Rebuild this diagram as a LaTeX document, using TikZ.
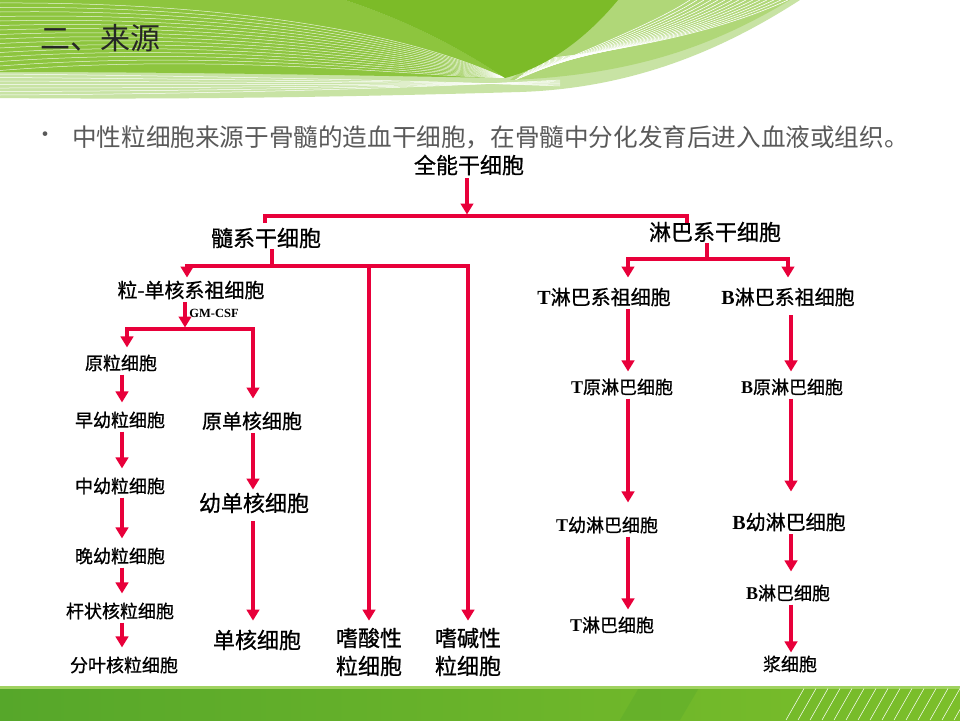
\documentclass[tikz,border=0pt]{standalone}
\usepackage{fontspec}
\setmainfont{Liberation Serif}
\newfontfamily\cjk{Noto Sans CJK SC}
\newfontfamily\cjkbold[FakeBold=0.8]{Noto Sans CJK SC}
\usetikzlibrary{arrows.meta}
\definecolor{linkred}{RGB}{232,0,58}
\definecolor{leafgreen}{RGB}{141,197,62}
\definecolor{deepgreen}{RGB}{124,187,40}
\definecolor{palegreen}{RGB}{200,227,164}
\definecolor{fangreen}{RGB}{176,215,120}
\definecolor{bargreen}{RGB}{86,167,42}
\definecolor{barlight}{RGB}{124,191,42}
\definecolor{barline}{RGB}{160,210,96}
\definecolor{bulletgray}{RGB}{89,89,89}
\definecolor{titleink}{RGB}{38,38,38}
\newcommand\romb[1]{{\rmfamily\bfseries #1}}

\tikzset{
  cell/.style={font=\cjkbold\fontsize{18}{22}\selectfont, inner sep=1pt},
  midcell/.style={cell, font=\cjkbold\fontsize{20}{24}\selectfont},
  bigcell/.style={cell, font=\cjkbold\fontsize{22}{28}\selectfont},
  link/.style={linkred, line width=3.2pt},
  arr/.style={link, -{Triangle[length=11pt,width=12.5pt]}, shorten >=6pt, shorten <=2pt},
}

\begin{document}
\begin{tikzpicture}[x=1pt,y=-1pt]
  \useasboundingbox (0,0) rectangle (960,720);
  \fill[white] (0,0) rectangle (960,720);

  % header swoosh
  \begin{scope}
    \clip (0,0) -- (800,0) .. controls (730,45) and (640,88) .. (520,92)
      .. controls (380,96) and (200,100) .. (0,98) -- cycle;
    \fill[palegreen] (0,0) rectangle (800,100);
    \foreach \k in {0,...,6}
      \draw[white, line width=0.5pt] (0,{74+3.5*\k}) .. controls (200,{76+3*\k}) and (400,{80+1.5*\k}) .. (560,{86-\k});
  \end{scope}
  \begin{scope}
    \clip (615,0) -- (790,0) .. controls (720,42) and (640,75) .. (510,80) -- cycle;
    \fill[fangreen] (500,0) rectangle (800,90);
    \foreach \k in {0,...,14}
      \draw[white, line width=0.6pt] ({515+2*\k},{80-1.5*\k}) .. controls ({600+5*\k},{45}) and ({660+6*\k},{20}) .. ({690+7*\k},0);
  \end{scope}
  \begin{scope}
    \clip (0,0) -- (345,0) .. controls (420,25) and (470,55) .. (505,78)
      .. controls (380,76) and (200,72) .. (0,72) -- cycle;
    \fill[leafgreen] (0,0) rectangle (510,80);
    \foreach \k in {0,...,15}
      \draw[white, line width=0.5pt, opacity=0.8] (0,{3+4.5*\k}) .. controls (220,{2+3.4*\k}) and (400,{30+3*\k}) .. (505,78);
  \end{scope}
  \fill[deepgreen] (345,0) -- (618,0) .. controls (585,40) and (545,68) .. (505,78)
    .. controls (470,55) and (420,25) .. (345,0);

  % footer bar
  \begin{scope}
    \clip (0,686) rectangle (960,720);
    \shade[left color=bargreen, right color=barlight] (0,686) rectangle (960,720);
    \fill[bargreen, opacity=0.35] (640,686) -- (700,686) -- (680,720) -- (620,720) -- cycle;
    \fill[barline] (0,686) rectangle (960,688.5);
    \foreach \k in {0,...,15}
      \draw[white, line width=0.6pt, opacity=0.85] ({786+12*\k},720) -- ({804+12*\k},688.5);
  \end{scope}

  % title and intro
  \node[font=\cjk\fontsize{30}{34}\selectfont, text=titleink, anchor=west, inner sep=0] (title) at (40,38) {二、来源};
  \node[font=\cjk\fontsize{22}{24}\selectfont, text=bulletgray, anchor=west, inner sep=0] (dot) at (34,137) {•};
  \node[font=\cjk\fontsize{24.6}{28}\selectfont, text=bulletgray, anchor=west, inner sep=0] (intro) at (72,137)
    {中性粒细胞来源于骨髓的造血干细胞，在骨髓中分化发育后进入血液或组织。};

  % cells
  \node[bigcell] (quan) at (469,165) {全能干细胞};
  \node[bigcell] (sui) at (266,238) {髓系干细胞};
  \node[bigcell] (lin) at (715,232) {淋巴系干细胞};
  \node[midcell] (lidan) at (191,290) {粒-单核系祖细胞};
  \node[font=\rmfamily\bfseries\fontsize{12.5}{14}\selectfont, inner sep=1pt] (gm) at (214,313) {GM-CSF};
  \node[cell] (yuanli) at (121,363) {原粒细胞};
  \node[cell] (zaoyou) at (120,420) {早幼粒细胞};
  \node[cell] (zhongyou) at (120,486) {中幼粒细胞};
  \node[cell] (wanyou) at (120,556) {晚幼粒细胞};
  \node[cell] (ganzhuang) at (120,611) {杆状核粒细胞};
  \node[cell] (fenye) at (124,665) {分叶核粒细胞};
  \node[midcell] (yuandan) at (252,421) {原单核细胞};
  \node[bigcell] (youdan) at (254,503) {幼单核细胞};
  \node[bigcell] (danhe) at (257,640) {单核细胞};
  \node[bigcell, align=center] (suan) at (369,652) {嗜酸性\\粒细胞};
  \node[bigcell, align=center] (jian) at (468,652) {嗜碱性\\粒细胞};
  \node[midcell] (tzu) at (604,297) {\romb{T}淋巴系祖细胞};
  \node[midcell] (bzu) at (788,297) {\romb{B}淋巴系祖细胞};
  \node[cell] (tyuan) at (622,387) {\romb{T}原淋巴细胞};
  \node[cell] (byuan) at (792,387) {\romb{B}原淋巴细胞};
  \node[cell] (tyou) at (607,525) {\romb{T}幼淋巴细胞};
  \node[midcell] (byou) at (789,522) {\romb{B}幼淋巴细胞};
  \node[cell] (tlin) at (612,625) {\romb{T}淋巴细胞};
  \node[cell] (blin) at (788,593) {\romb{B}淋巴细胞};
  \node[cell] (jiang) at (790,664) {浆细胞};

  % branch points and columns
  \coordinate (top) at (467,216);
  \coordinate (l1) at (265,223);
  \coordinate (r1) at (687,223);
  \coordinate (m) at (272,266);
  \coordinate (g) at (185,329);
  \coordinate (n) at (707,259);
  \coordinate (gx) at (122,0);
  \coordinate (gx2) at (127,0);
  \coordinate (mx) at (253,0);
  \coordinate (tx) at (628,0);
  \coordinate (bx) at (791,0);

  % connectors
  \draw[arr, shorten >=1.5pt] (quan.south -| top) -- (top);
  \draw[link] (l1) |- (top) -| (r1);
  \draw[link] (sui.south -| m) -- (m);
  \draw[arr, shorten <=0pt, shorten >=2pt] (m) -| ([xshift=-4pt]lidan.north);
  \draw[arr, shorten <=0pt] (m) -| (suan.north);
  \draw[arr, shorten <=0pt] (m) -| (jian.north);

  \draw[arr, shorten >=1.5pt] (lidan.south -| g) -- (g);
  \draw[arr, shorten <=0pt] (g) -| (yuanli.north -| gx2);
  \draw[arr, shorten <=0pt, shorten >=12pt] (g) -| (yuandan.north -| mx);
  \foreach \a/\b in {yuanli/zaoyou,zaoyou/zhongyou,zhongyou/wanyou,wanyou/ganzhuang,ganzhuang/fenye}
    \draw[arr, shorten >=8pt] (\a.south -| gx) -- (\b.north -| gx);
  \draw[arr, shorten >=2pt] (yuandan.south -| mx) -- (youdan.north -| mx);
  \draw[arr, shorten >=8pt, shorten <=7pt] (youdan.south -| mx) -- (danhe.north -| mx);

  \draw[link] (lin.south -| n) -- (n);
  \draw[arr, shorten <=0pt, shorten >=9pt] (n) -| (tzu.north -| tx);
  \draw[arr, shorten <=0pt, shorten >=9pt] (n) -| (bzu.north);
  \draw[arr] (tzu.south -| tx) -- (tyuan.north -| tx);
  \draw[arr, shorten >=13pt] (tyuan.south -| tx) -- (tyou.north -| tx);
  \draw[arr] (tyou.south -| tx) -- (tlin.north -| tx);
  \draw[arr, shorten <=8pt] (bzu.south -| bx) -- (byuan.north -| bx);
  \draw[arr, shorten >=20pt] (byuan.south -| bx) -- (byou.north -| bx);
  \draw[arr, shorten >=12pt] (byou.south -| bx) -- (blin.north -| bx);
  \draw[arr, shorten >=2pt] (blin.south -| bx) -- (jiang.north -| bx);
\end{tikzpicture}
\end{document}
